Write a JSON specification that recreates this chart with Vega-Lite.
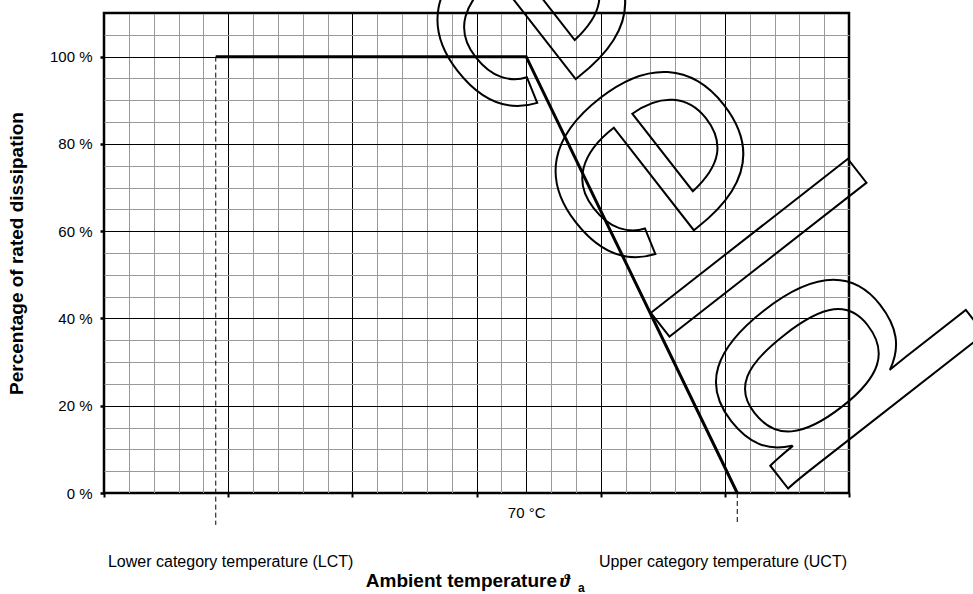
{
  "$schema": "https://vega.github.io/schema/vega-lite/v6.json",
  "width": 745,
  "height": 480,
  "autosize": {"type": "none"},
  "padding": {"left": 104, "top": 13, "right": 124, "bottom": 101},
  "background": "white",
  "config": {
    "view": {"stroke": "black", "strokeWidth": 2.5},
    "font": "Liberation Sans",
    "axisX": {
      "tickCount": 100,
      "domain": false, "grid": true, "gridWidth": 1, "ticks": true, "tickSize": 4, "tickWidth": 2, "tickColor": "#000000",
      "labelFont": "Liberation Sans", "labelFontSize": 15, "labelColor": "#000000", "labelPadding": 8,
      "labelOverlap": false, "labelFlush": false, "labelBound": false
    },
    "axisY": {
      "tickCount": 100,
      "domain": false, "grid": true, "gridWidth": 1, "ticks": true, "tickSize": 4, "tickWidth": 2.5, "tickColor": "#000000",
      "labelFont": "Liberation Sans", "labelFontSize": 15, "labelColor": "#000000", "labelPadding": 8,
      "labelOverlap": false, "labelFlush": false, "labelBound": false,
      "titleFont": "Liberation Sans", "titleFontSize": 19, "titleFontWeight": "bold", "titleColor": "#000000", "titlePadding": 23
    }
  },
  "datasets": {
    "curve": [
      {"temp": -55, "pct": 100},
      {"temp": 70, "pct": 100},
      {"temp": 155, "pct": 0}
    ],
    "limits": [
      {"name": "LCT", "temp": -55, "pct": 100, "pct2": -7.3},
      {"name": "UCT", "temp": 155, "pct": 0, "pct2": -7.3}
    ],
    "lowerLabel": [{"label": "Lower category temperature (LCT)"}],
    "upperLabel": [{"label": "Upper category temperature (UCT)"}],
    "xTitle": [{"label": "Ambient temperature"}],
    "xSymbol": [{"label": "ϑ"}],
    "xSub": [{"label": "a"}],
    "watermark": [{"word": "Voorbeeld"}]
  },
  "layer": [
    {
      "data": {"name": "limits"},
      "mark": {"type": "rule", "color": "black", "strokeWidth": 1, "strokeDash": [5, 3]},
      "encoding": {
        "x": {"field": "temp", "type": "quantitative", "title": null,
          "scale": {"domain": [-100, 200], "nice": false, "zero": false},
          "axis": {"values": [-100,-90,-80,-70,-60,-50,-40,-30,-20,-10,0,10,20,30,40,50,60,70,80,90,100,110,120,130,140,150,160,170,180,190,200],
            "gridColor": {"condition": {"test": "datum.value % 50 === 0 || datum.value === 70", "value": "#000000"}, "value": "#999999"},
            "tickOpacity": {"condition": {"test": "datum.value % 50 === 0", "value": 1}, "value": 0},
            "labelExpr": "datum.value === 70 ? '70 °C' : ''"}},
        "y": {"field": "pct", "type": "quantitative", "title": "Percentage of rated dissipation",
          "scale": {"domain": [0, 110], "nice": false, "zero": false},
          "axis": {"values": [0,5,10,15,20,25,30,35,40,45,50,55,60,65,70,75,80,85,90,95,100,105,110],
            "gridColor": {"condition": {"test": "datum.value % 20 === 0 || datum.value === 110", "value": "#000000"}, "value": "#999999"},
            "tickOpacity": {"condition": {"test": "datum.value % 20 === 0 && datum.value <= 100", "value": 1}, "value": 0},
            "labelExpr": "datum.value % 20 === 0 && datum.value <= 100 ? datum.value + ' %' : ''"}},
        "y2": {"field": "pct2"},
        "detail": {"field": "name"}
      }
    },
    {
      "data": {"name": "curve"},
      "mark": {"type": "line", "color": "black", "strokeWidth": 3, "strokeJoin": "miter"},
      "encoding": {
        "x": {"field": "temp", "type": "quantitative", "title": null},
        "y": {"field": "pct", "type": "quantitative", "title": "Percentage of rated dissipation"}
      }
    },
    {
      "data": {"name": "lowerLabel"},
      "mark": {"type": "text", "font": "Liberation Sans", "fontSize": 16, "align": "left", "baseline": "alphabetic", "color": "black"},
      "encoding": {
        "x": {"datum": -98.4, "type": "quantitative", "title": null},
        "y": {"datum": -16.9, "type": "quantitative", "title": "Percentage of rated dissipation"},
        "text": {"field": "label"}
      }
    },
    {
      "data": {"name": "upperLabel"},
      "mark": {"type": "text", "font": "Liberation Sans", "fontSize": 16, "align": "right", "baseline": "alphabetic", "color": "black"},
      "encoding": {
        "x": {"datum": 199.2, "type": "quantitative", "title": null},
        "y": {"datum": -16.9, "type": "quantitative", "title": "Percentage of rated dissipation"},
        "text": {"field": "label"}
      }
    },
    {
      "data": {"name": "xTitle"},
      "mark": {"type": "text", "font": "Liberation Sans", "fontSize": 19, "fontWeight": "bold", "align": "right", "baseline": "alphabetic", "color": "black"},
      "encoding": {
        "x": {"datum": 82.4, "type": "quantitative", "title": null},
        "y": {"datum": -21.5, "type": "quantitative", "title": "Percentage of rated dissipation"},
        "text": {"field": "label"}
      }
    },
    {
      "data": {"name": "xSymbol"},
      "mark": {"type": "text", "font": "Liberation Serif", "fontSize": 19, "fontWeight": "bold", "fontStyle": "italic", "align": "left", "baseline": "alphabetic", "color": "black"},
      "encoding": {
        "x": {"datum": 83.6, "type": "quantitative", "title": null},
        "y": {"datum": -21.5, "type": "quantitative", "title": "Percentage of rated dissipation"},
        "text": {"field": "label"}
      }
    },
    {
      "data": {"name": "xSub"},
      "mark": {"type": "text", "font": "Liberation Sans", "fontSize": 12, "fontWeight": "bold", "align": "left", "baseline": "alphabetic", "color": "black"},
      "encoding": {
        "x": {"datum": 90.9, "type": "quantitative", "title": null},
        "y": {"datum": -22.6, "type": "quantitative", "title": "Percentage of rated dissipation"},
        "text": {"field": "label"}
      }
    },
    {
      "data": {"name": "watermark"},
      "mark": {"type": "text", "font": "Liberation Sans", "fontSize": 345, "angle": 52, "align": "right", "baseline": "alphabetic", "fillOpacity": 0, "stroke": "black", "strokeWidth": 2},
      "encoding": {
        "x": {"datum": 181, "type": "quantitative", "title": null},
        "y": {"datum": -3, "type": "quantitative", "title": "Percentage of rated dissipation"},
        "text": {"field": "word"}
      }
    }
  ]
}
